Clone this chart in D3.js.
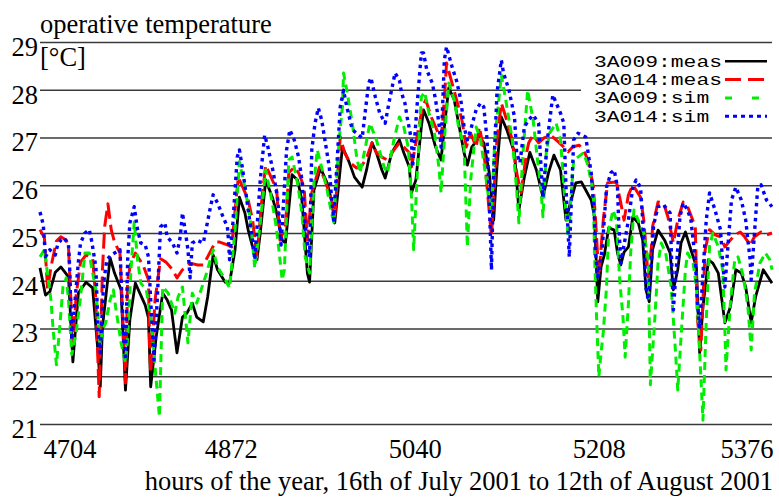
<!DOCTYPE html>
<html><head><meta charset="utf-8">
<script src="https://cdn.jsdelivr.net/npm/d3@7"></script>
<style>body{margin:0;background:#fff}svg{display:block}</style>
</head><body>
<svg id="chart" width="779" height="497"></svg>
<script>
// ---- data: [hour of year, operative temperature °C] ----
const meas009 = [[4698,24.27],[4703,23.70],[4707,23.77],[4712,24.18],[4717,24.29],[4724,24.08],[4728,22.30],[4733,23.74],[4740,23.97],[4746,23.85],[4751,22.49],[4753,21.78],[4755,23.03],[4762,24.48],[4766,24.16],[4772,23.81],[4776,21.71],[4780,23.18],[4785,23.95],[4794,23.49],[4797,23.22],[4799,21.78],[4804,22.82],[4810,23.74],[4814,23.60],[4818,23.39],[4823,22.49],[4828,23.24],[4832,23.32],[4837,23.53],[4841,23.24],[4847,23.14],[4851,23.66],[4856,24.54],[4860,24.23],[4867,23.97],[4871,23.95],[4876,24.65],[4880,25.75],[4885,25.42],[4888,25.06],[4892,24.71],[4896,24.44],[4899,25.00],[4904,26.11],[4910,25.75],[4914,25.42],[4919,24.85],[4922,24.79],[4928,26.22],[4933,26.11],[4937,25.69],[4942,24.16],[4944,23.97],[4948,25.90],[4954,26.36],[4960,26.05],[4964,25.69],[4967,25.21],[4974,26.80],[4980,26.49],[4985,26.17],[4992,25.96],[4996,26.32],[5001,26.89],[5005,26.68],[5010,26.32],[5013,26.15],[5019,26.68],[5026,26.95],[5030,26.68],[5035,26.38],[5037,25.84],[5041,26.11],[5046,27.22],[5048,27.58],[5053,27.30],[5059,26.80],[5064,26.53],[5067,27.22],[5071,28.04],[5076,27.79],[5080,27.30],[5085,26.68],[5088,26.42],[5092,26.80],[5099,27.01],[5103,26.89],[5108,26.26],[5112,25.27],[5115,26.38],[5119,27.43],[5124,27.16],[5131,26.68],[5135,25.48],[5140,26.17],[5145,26.69],[5151,26.32],[5157,25.75],[5162,26.26],[5167,26.63],[5173,26.32],[5178,25.27],[5181,25.54],[5187,26.05],[5192,26.07],[5196,25.90],[5201,25.69],[5204,25.34],[5207,23.56],[5210,24.29],[5213,24.54],[5217,25.11],[5222,25.06],[5225,24.58],[5228,24.33],[5231,24.60],[5235,24.71],[5239,25.34],[5244,25.21],[5248,24.85],[5251,23.81],[5254,23.56],[5257,24.65],[5262,25.06],[5268,24.85],[5273,24.58],[5276,23.81],[5280,24.23],[5283,24.79],[5287,25.02],[5292,24.65],[5297,24.29],[5300,22.49],[5303,23.45],[5308,24.44],[5312,24.37],[5317,24.16],[5323,23.12],[5328,23.45],[5333,24.23],[5338,24.16],[5342,23.87],[5347,23.12],[5351,23.66],[5358,24.23],[5364,24.02],[5366,23.95]];

const meas014 = [[4698,25.07],[4702,24.90],[4705,23.81],[4708,24.29],[4713,24.83],[4717,24.92],[4722,24.85],[4724,24.71],[4728,22.65],[4731,23.70],[4735,24.39],[4740,24.54],[4746,24.48],[4749,23.60],[4752,21.57],[4755,24.23],[4757,25.13],[4760,25.61],[4763,25.07],[4766,24.81],[4771,24.58],[4774,22.97],[4776,21.86],[4778,24.02],[4781,24.39],[4785,24.58],[4792,24.33],[4797,24.02],[4798,22.65],[4799,22.07],[4803,23.60],[4808,24.46],[4813,24.39],[4819,24.23],[4823,24.06],[4828,24.23],[4835,24.37],[4842,24.33],[4847,24.33],[4851,24.50],[4858,24.81],[4862,24.81],[4869,24.75],[4873,24.71],[4876,25.48],[4879,26.17],[4883,25.96],[4888,25.69],[4892,25.27],[4896,24.50],[4901,25.84],[4904,26.42],[4910,26.11],[4914,25.90],[4917,24.85],[4922,25.13],[4925,26.26],[4930,26.38],[4934,26.26],[4939,25.96],[4942,24.85],[4946,25.84],[4953,26.38],[4958,26.11],[4964,25.69],[4967,25.34],[4972,27.01],[4976,26.68],[4981,26.47],[4987,26.36],[4992,26.42],[4996,26.57],[5001,26.89],[5005,26.68],[5010,26.59],[5015,26.53],[5021,26.74],[5026,26.89],[5030,26.80],[5035,26.68],[5037,26.38],[5042,27.01],[5047,27.64],[5050,27.79],[5055,27.43],[5059,27.22],[5064,26.95],[5067,27.79],[5069,28.56],[5074,28.14],[5079,27.72],[5083,27.37],[5087,26.80],[5091,27.09],[5096,26.80],[5099,27.22],[5103,26.74],[5106,25.96],[5110,24.92],[5115,26.95],[5119,27.72],[5123,27.43],[5129,26.95],[5133,26.26],[5137,25.84],[5142,26.68],[5144,26.89],[5148,27.05],[5153,26.89],[5158,26.99],[5164,27.05],[5171,26.91],[5176,26.80],[5180,26.70],[5184,26.80],[5190,26.84],[5194,26.74],[5198,26.53],[5203,25.96],[5205,25.27],[5208,24.08],[5212,25.27],[5216,26.05],[5224,26.07],[5228,25.63],[5231,25.27],[5235,25.80],[5239,26.01],[5246,25.75],[5249,25.27],[5253,24.08],[5256,24.71],[5257,25.13],[5262,25.65],[5267,25.63],[5271,25.34],[5276,24.79],[5280,25.27],[5285,25.65],[5289,25.55],[5296,25.13],[5298,23.18],[5301,22.55],[5305,24.65],[5309,25.07],[5314,24.96],[5319,24.92],[5323,24.71],[5328,24.85],[5332,24.96],[5337,25.02],[5341,24.92],[5346,24.75],[5350,24.92],[5356,25.02],[5361,24.96],[5366,25.00]];

const sim009 = [[4698,24.50],[4702,24.65],[4705,24.12],[4708,23.60],[4710,22.97],[4713,22.24],[4716,23.03],[4719,23.87],[4722,24.06],[4724,23.60],[4727,22.45],[4731,22.91],[4735,23.66],[4739,24.58],[4743,24.58],[4745,24.29],[4749,23.81],[4753,22.65],[4755,22.97],[4758,23.12],[4762,23.60],[4765,23.81],[4767,23.45],[4772,22.70],[4776,22.28],[4778,22.82],[4781,24.23],[4784,25.23],[4787,24.44],[4790,23.95],[4795,23.81],[4799,23.24],[4801,22.76],[4804,21.92],[4807,21.15],[4810,23.87],[4815,23.74],[4821,23.32],[4824,23.66],[4828,23.87],[4833,22.70],[4837,23.74],[4841,23.53],[4850,24.16],[4856,24.65],[4860,24.29],[4867,24.02],[4871,23.85],[4876,25.07],[4880,26.49],[4885,25.96],[4890,25.27],[4894,24.27],[4899,25.21],[4904,26.32],[4910,25.63],[4914,25.07],[4919,24.02],[4921,24.23],[4925,26.53],[4928,26.59],[4933,26.05],[4937,25.42],[4940,24.50],[4944,24.16],[4948,26.05],[4951,26.74],[4955,26.38],[4960,25.90],[4964,25.42],[4966,25.23],[4971,26.95],[4974,27.64],[4975,28.35],[4978,27.99],[4983,27.30],[4987,26.59],[4990,26.26],[4995,26.80],[4999,27.30],[5005,26.95],[5012,26.38],[5015,26.26],[5021,26.95],[5026,27.43],[5030,27.22],[5034,26.80],[5037,25.75],[5039,24.65],[5042,26.11],[5046,27.85],[5049,27.95],[5053,27.51],[5058,27.09],[5062,26.38],[5064,25.84],[5067,26.95],[5071,28.14],[5076,27.79],[5080,27.22],[5085,26.80],[5087,25.42],[5088,24.71],[5091,26.11],[5096,27.22],[5100,26.95],[5104,26.32],[5107,25.80],[5110,25.48],[5113,26.95],[5119,28.31],[5123,27.79],[5129,26.95],[5133,25.90],[5135,25.21],[5139,26.74],[5143,27.99],[5148,27.37],[5152,26.53],[5155,25.96],[5157,25.34],[5160,26.68],[5163,27.09],[5169,27.30],[5173,26.95],[5177,25.69],[5180,24.92],[5185,26.53],[5189,26.59],[5194,26.68],[5198,26.42],[5203,25.84],[5204,24.58],[5206,23.18],[5208,21.99],[5210,22.49],[5212,22.91],[5215,23.87],[5217,25.07],[5221,25.48],[5224,25.27],[5227,24.02],[5230,23.24],[5232,22.40],[5235,23.53],[5237,24.58],[5240,25.48],[5245,25.21],[5249,25.00],[5253,24.44],[5255,21.82],[5259,23.18],[5262,24.37],[5265,24.79],[5269,24.58],[5274,23.87],[5278,22.49],[5280,21.71],[5283,22.82],[5287,24.23],[5289,24.58],[5294,24.37],[5297,23.87],[5300,22.49],[5303,21.08],[5306,23.18],[5309,24.71],[5312,25.00],[5317,24.71],[5321,24.23],[5323,22.97],[5324,22.13],[5328,23.53],[5332,24.44],[5335,24.50],[5340,24.08],[5344,23.45],[5347,22.55],[5350,23.74],[5355,24.37],[5360,24.58],[5364,24.44],[5366,24.23]];

const sim014 = [[4698,25.44],[4701,25.17],[4703,24.50],[4707,24.65],[4712,24.54],[4714,24.75],[4717,24.85],[4720,24.90],[4724,24.75],[4725,24.33],[4727,22.76],[4730,23.60],[4733,24.39],[4735,24.79],[4739,25.00],[4743,25.07],[4745,24.85],[4749,24.29],[4751,22.91],[4753,22.49],[4756,23.95],[4759,24.44],[4763,24.54],[4766,24.58],[4771,24.65],[4774,22.91],[4776,22.34],[4778,24.44],[4780,25.21],[4784,25.55],[4787,25.07],[4790,24.79],[4794,24.75],[4797,24.50],[4799,23.60],[4802,22.34],[4805,23.60],[4808,25.13],[4812,25.21],[4814,24.92],[4819,24.79],[4823,24.58],[4826,24.92],[4828,25.42],[4830,25.13],[4833,24.65],[4835,24.06],[4837,24.79],[4841,24.85],[4847,24.79],[4850,25.13],[4853,25.48],[4856,25.80],[4860,25.63],[4865,25.34],[4869,25.13],[4870,24.85],[4871,24.44],[4874,25.21],[4878,26.59],[4880,26.74],[4883,26.32],[4888,25.48],[4892,24.85],[4894,24.44],[4899,26.11],[4903,27.05],[4906,26.80],[4911,26.26],[4915,25.69],[4918,24.75],[4923,26.74],[4926,27.16],[4930,26.95],[4934,26.59],[4937,26.11],[4940,25.13],[4944,24.50],[4946,26.74],[4949,27.30],[4952,27.62],[4955,27.37],[4958,26.95],[4962,26.38],[4964,25.75],[4966,25.27],[4972,27.64],[4975,27.99],[4978,27.64],[4983,27.16],[4987,27.09],[4992,26.99],[4995,27.58],[4998,28.14],[5000,28.25],[5004,27.85],[5008,27.51],[5013,27.30],[5017,27.79],[5022,28.35],[5026,28.20],[5028,27.93],[5031,27.72],[5033,27.43],[5037,26.95],[5038,26.38],[5042,27.64],[5046,28.77],[5048,28.77],[5051,28.41],[5056,28.14],[5059,27.79],[5062,27.30],[5064,26.80],[5067,28.62],[5069,28.90],[5074,28.48],[5078,28.20],[5082,27.79],[5085,27.22],[5088,26.95],[5091,27.16],[5096,27.58],[5100,27.72],[5103,27.64],[5106,26.95],[5108,25.69],[5110,24.23],[5112,26.26],[5115,27.93],[5119,28.62],[5121,28.35],[5126,27.99],[5131,27.43],[5133,26.68],[5136,26.47],[5140,27.22],[5144,27.37],[5148,27.47],[5153,27.30],[5155,26.47],[5157,25.75],[5161,26.95],[5166,27.89],[5173,27.51],[5176,27.30],[5178,25.96],[5181,24.50],[5185,26.95],[5189,27.09],[5196,27.01],[5201,26.26],[5204,25.27],[5205,24.58],[5207,24.08],[5211,24.65],[5215,25.96],[5219,26.26],[5222,26.32],[5225,25.96],[5226,25.27],[5228,24.37],[5235,25.27],[5239,25.96],[5242,26.11],[5246,25.96],[5248,25.27],[5251,23.87],[5253,23.60],[5256,24.39],[5258,25.17],[5262,25.55],[5267,25.59],[5273,25.42],[5274,24.71],[5276,23.39],[5282,25.34],[5285,25.63],[5289,25.48],[5292,25.27],[5296,24.44],[5298,23.53],[5300,23.03],[5306,25.27],[5309,25.84],[5314,25.48],[5319,25.07],[5321,24.37],[5323,23.87],[5326,24.79],[5329,25.69],[5333,25.96],[5338,25.69],[5342,25.27],[5346,24.44],[5347,24.02],[5350,25.00],[5353,25.96],[5356,26.01],[5361,25.69],[5366,25.55]];

const seriesNames = ["3A009:meas", "3A014:meas", "3A009:sim", "3A014:sim"];
const xTicks = [4704, 4872, 5040, 5208, 5376];
const yTicks = [21, 22, 23, 24, 25, 26, 27, 28, 29];
const titleText = "operative temperature";
const unitText = "[°C]";
const xLabelText = "hours of the year, 16th of July 2001 to 12th of August 2001";

// ---- drawing ----
const L = 40, R = 772, T = 42, B = 424;
const FS = 26.5;
const svg = d3.select("#chart");
const serif = "'Liberation Serif','Times New Roman',serif";
const mono = "'Liberation Mono','Courier New',monospace";

const x = d3.scaleLinear().domain([4698, 5366]).range([L, R]);
const y = d3.scaleLinear().domain([21, 29]).range([B, T]);

// y axis with full-width grid lines
const yAxis = svg.append("g").attr("transform", `translate(${L},0)`)
  .call(d3.axisLeft(y).tickValues(yTicks).tickSize(-(R - L)).tickPadding(2).tickFormat(d3.format("d")));
yAxis.select(".domain").remove();
yAxis.selectAll(".tick line").attr("stroke", "#3a3a3a").attr("stroke-width", 1.7);
yAxis.selectAll(".tick text").attr("font-family", serif).attr("font-size", FS).attr("fill", "#000").attr("dy", "0.5em");

// x axis labels
const xAxis = svg.append("g").attr("transform", `translate(0,${B})`)
  .call(d3.axisBottom(x).tickValues(xTicks).tickSize(0).tickPadding(15).tickFormat(d3.format("d")));
xAxis.select(".domain").remove();
xAxis.selectAll(".tick text").attr("font-family", serif).attr("font-size", FS).attr("fill", "#000");
const xt = xAxis.selectAll(".tick text").nodes();
d3.select(xt[0]).attr("text-anchor", "start").attr("x", (L + 3) - x(xTicks[0]));
d3.select(xt[xt.length - 1]).attr("text-anchor", "end").attr("x", (R + 1) - x(xTicks[xTicks.length - 1]));

// legend background
svg.append("rect").attr("x", 581).attr("y", 50).attr("width", R + 1 - 581).attr("height", 77).attr("fill", "#fff");

// lines
const line = d3.line().x(d => x(d[0])).y(d => y(d[1]));
const styles = [
  {data: meas009, color: "#000000", width: 2.8, dash: null},
  {data: meas014, color: "#ff0000", width: 3, dash: "16,6"},
  {data: sim009, color: "#00ee00", width: 3, dash: "8,5"},
  {data: sim014, color: "#0000ff", width: 3.4, dash: "3.5,4"}
];
styles.forEach(s => {
  svg.append("path").datum(s.data).attr("d", line)
    .attr("fill", "none").attr("stroke", s.color).attr("stroke-width", s.width)
    .attr("stroke-dasharray", s.dash).attr("stroke-linejoin", "round");
});

// legend
const legendDash = [null, "16,7", "7,20", "4,4"];
seriesNames.forEach((name, i) => {
  const by = 66.7 + i * 18.35;
  svg.append("text").attr("x", 594).attr("y", by).attr("font-family", mono).attr("font-size", 16.5)
    .attr("textLength", name.length * 12.8).attr("lengthAdjust", "spacingAndGlyphs")
    .attr("fill", "#000").text(name);
  svg.append("line").attr("x1", 725).attr("x2", 767).attr("y1", by - 5.5).attr("y2", by - 5.5)
    .attr("stroke", styles[i].color).attr("stroke-width", i === 0 ? 2.5 : 3).attr("stroke-dasharray", legendDash[i]);
});

// titles
svg.append("text").attr("x", 40).attr("y", 33).attr("font-family", serif).attr("font-size", FS).attr("fill", "#000").text(titleText);
svg.append("text").attr("x", 40).attr("y", 66).attr("font-family", serif).attr("font-size", FS).attr("fill", "#000").text(unitText);
svg.append("text").attr("x", 773).attr("y", 490).attr("text-anchor", "end").attr("font-family", serif).attr("font-size", FS).attr("fill", "#000").text(xLabelText);
</script>
</body></html>
